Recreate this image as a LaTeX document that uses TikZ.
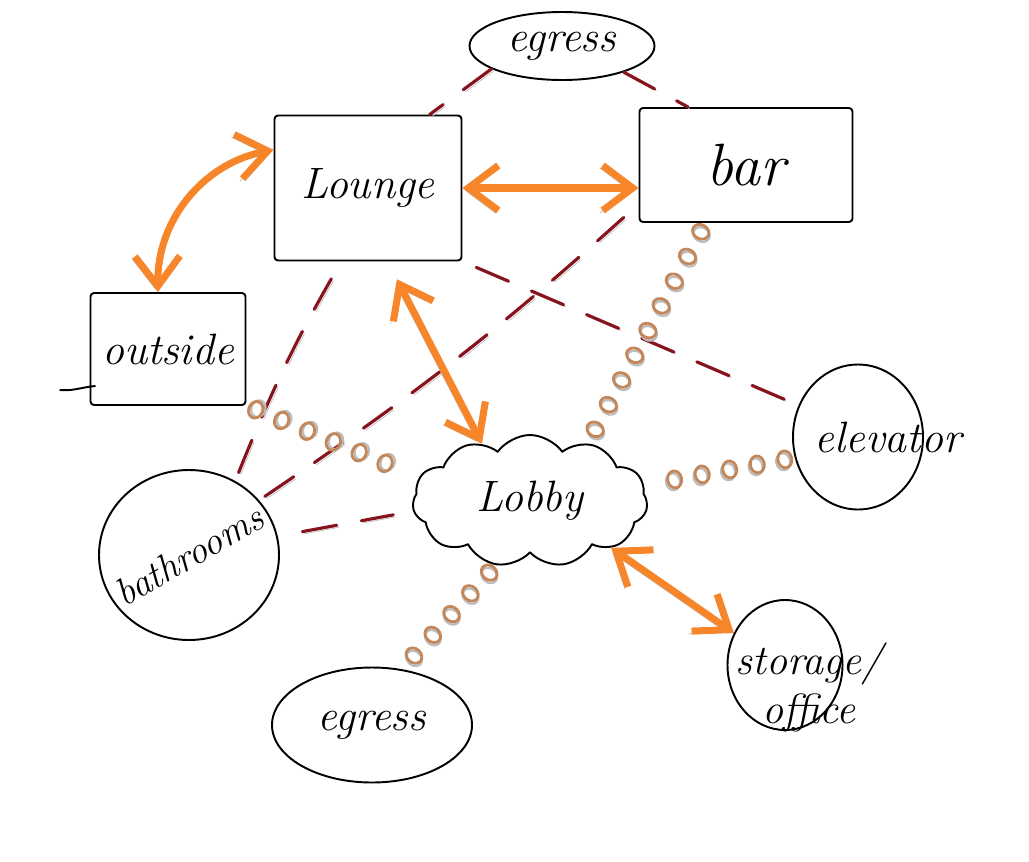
\documentclass[tikz,border=0pt]{standalone}
\usepackage{tikz}
\usetikzlibrary{arrows.meta,positioning,calc,shapes.geometric,shapes.symbols,decorations.markings}
\definecolor{hbrick}{HTML}{87131C}
\definecolor{horange}{HTML}{F7852A}
\definecolor{htan}{HTML}{C3875A}
\definecolor{hshade}{HTML}{BDBDBD}

\begin{document}
\begin{tikzpicture}[x=0.2mm, y=-0.2mm, line join=round,
  hand/.style={font=\fontsize{25}{27}\selectfont\itshape},
  room/.style={draw, line width=1.1pt, hand, inner sep=0pt},
  box/.style={room, rectangle, rounded corners=2pt},
  oval/.style={room, ellipse},
  walk/.style={draw=horange, line width=4pt, line cap=round, <->,
    >={Straight Barb[length=6mm, width=9mm]},
    preaction={draw=hshade, transform canvas={shift={(-1.5pt,-1.5pt)}}}},
  redlink/.style={draw=hbrick, line width=1.8pt, line cap=round,
    dash pattern=on 7mm off 5mm,
    preaction={draw=hshade, dash pattern=on 7mm off 5mm,
      transform canvas={shift={(1.2pt,-1.2pt)}}}},
  ringlink/.style={decorate, decoration={markings,
    mark=between positions 2mm and -2mm step 5.6mm with {
      \draw[hshade, line width=1.3pt] (0.4mm,0.4mm) ellipse (1.4mm and 1.7mm);
      \draw[htan, line width=1.6pt] (0,0) ellipse (1.4mm and 1.7mm);}}}]
\useasboundingbox (0,0) rectangle (1029,861);
% =================== rooms ===================
\node[oval, minimum width=37mm, minimum height=13.6mm] (egressTop) at (562,46) {egress};
\node[box, minimum width=37.4mm, minimum height=29mm] (lounge) at (368,188) {Lounge};
\node[box, minimum width=42.6mm, minimum height=22.8mm,
      font=\fontsize{34}{36}\selectfont\itshape] (bar) at (746,165) {bar};
\node[box, minimum width=31mm, minimum height=22.4mm] (outside) at (168,349) {outside};
\node[room, cloud, cloud puffs=11, cloud puff arc=110, aspect=1.8,
      minimum width=47mm, minimum height=26.4mm] (lobby) at (530,501) {Lobby};
\node[oval, minimum width=26mm, minimum height=29mm,
      label={[hand, xshift=6mm]center:elevator}] (elevator) at (858,437) {};
\node[oval, minimum width=36mm, minimum height=34mm,
      label={[font=\fontsize{22}{24}\selectfont\itshape, rotate=30]center:bathrooms}]
      (bathrooms) at (189,555) {};
\node[oval, minimum width=40mm, minimum height=23mm] (egressBot) at (372,725) {egress};
\node[oval, minimum width=23mm, minimum height=26mm,
      label={[font=\fontsize{24}{28}\selectfont\itshape, align=center,
              xshift=4.8mm, yshift=-4.5mm]center:storage/\\office}] (storage) at (785,665) {};
% ground line under outside
\draw[line width=1.1pt] (outside.south west) ++(6,-20) to[out=185,in=-5] ++(-36,4);
% =================== dashed links ===================
\draw[redlink] (egressTop.198) -- (lounge.50);
\draw[redlink] (egressTop.-23) -- (bar.135);
\draw[redlink, shorten <=3mm] (lounge.south east) -- (elevator.152);
\draw[redlink, shorten <=4mm] (bar.-160) to[bend left=4] (bathrooms.38);
\draw[redlink, shorten <=4mm] (lounge.-110) to[bend right=4] (bathrooms.58);
\draw[redlink, shorten <=5mm, shorten >=4mm] (bathrooms.12) -- (lobby.185);
% =================== ring links ===================
\foreach \a/\b in {bar.-125/lobby.45, elevator.198/lobby.8,
                   outside.south east/lobby.168, lobby.-118/egressBot.62}{
  \path[ringlink] (\a) -- (\b);
}
% =================== walkways ===================
\draw[walk] (outside.100) to[bend left=40] (lounge.158);
\draw[walk] (lounge.east) -- (bar.west |- lounge.east);
\draw[walk, shorten <=4mm] (lounge.-75) -- (lobby.130);
\draw[walk] (lobby.-30) -- (storage.148);
\end{tikzpicture}
\end{document}
